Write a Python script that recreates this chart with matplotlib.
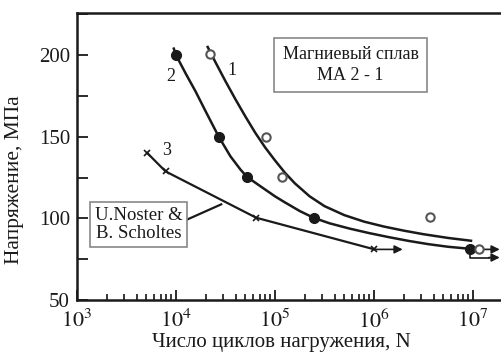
"""
S-N curves, magnesium alloy MA2-1
"""
import numpy as np
import matplotlib
matplotlib.use('Agg')
import matplotlib.pyplot as plt
from matplotlib.ticker import LogLocator, MultipleLocator, FuncFormatter, NullFormatter

plt.rcParams['font.family'] = ['Liberation Serif', 'DejaVu Serif']
plt.rcParams['mathtext.fontset'] = 'stix'

################################################################################
#
# data: log10(N cycles) and stress, MPa
#
# series 1 - open circles and the drawn curve
lg1_pts = [4.345, 4.911, 5.073, 6.568, 7.060]
s1_pts = [200.4, 149.6, 125.5, 101.0, 81.0]
lg1_curve = [4.32, 4.40, 4.50, 4.60, 4.70, 4.80, 4.90, 5.00, 5.10, 5.20, 5.35,
             5.50, 5.70, 5.90, 6.10, 6.30, 6.50, 6.75, 6.98]
s1_curve = [205.0, 195.5, 184.0, 173.0, 162.5, 152.5, 143.5, 135.5, 128.0, 121.5, 113.5,
            107.5, 102.0, 98.0, 95.0, 92.5, 90.3, 88.0, 86.3]

# series 2 - filled circles, curve through the points
lg2_pts = [4.0, 4.432, 4.715, 5.389, 6.965]
s2_pts = [200.0, 150.0, 125.5, 100.4, 81.4]
lg2_curve = [3.978, 4.0, 4.1, 4.2, 4.3, 4.432, 4.55, 4.65, 4.715, 4.85, 5.0, 5.1,
             5.25, 5.389, 5.55, 5.75, 5.95, 6.15, 6.35, 6.55, 6.75, 6.965]
s2_curve = [204.0, 200.0, 188.5, 177.5, 165.5, 150.0, 138.0, 130.0, 125.5, 119.8, 113.5, 109.8,
            104.5, 100.4, 97.0, 93.8, 91.0, 88.5, 86.2, 84.2, 82.6, 81.4]

# series 3 - crosses (U.Noster & B. Scholtes)
lg3 = [3.709, 3.894, 4.810, 6.005]
s3 = [140.1, 128.8, 100.4, 81.0]

# run-out arrows: (start lgN, start S, end lgN, end S)
runouts = [
    (6.005, 81.0, 6.29, 81.0),
    (7.060, 81.0, 7.27, 81.0),
]
bent_lg = [6.965, 6.965, 7.16]
bent_s = [81.4, 76.0, 76.0]
bent_tip_lg = 7.27

# curve numbers
curve_ids = ['1', '2', '3']
id_lg = [4.568, 3.952, 3.901]
id_s = [190.3, 186.7, 141.8]

# leader line from the reference box to curve 3
leader_lg = [4.076, 4.457]
leader_s = [98.3, 108.6]

ink = '#1a1a1a'

################################################################################
#
# create plot
fig = plt.figure(figsize=(5.02, 3.52), dpi=100)
ax = fig.add_axes([77/502, 52/352, 425/502, 287.3/352])

ax.plot(np.power(10.0, lg1_curve), s1_curve, color=ink, lw=1.8)
ax.plot(np.power(10.0, lg2_curve), s2_curve, color=ink, lw=1.8)
ax.plot(np.power(10.0, lg3), s3, color=ink, lw=1.6, marker='x', ms=5, mew=1.2)

ax.plot(np.power(10.0, lg2_pts), s2_pts, 'o', color=ink, ms=7, zorder=4)
ax.plot(np.power(10.0, lg1_pts), s1_pts, 'o', mfc='white', mec='#555555',
        mew=1.5, ms=6, zorder=5)

arrow_kw = dict(arrowstyle='-|>', color=ink, lw=1.2, mutation_scale=12,
                shrinkA=0, shrinkB=0)
for x0, y0, x1, y1 in runouts:
    ax.annotate('', xy=(10**x1, y1), xytext=(10**x0, y0), arrowprops=arrow_kw)
ax.plot(np.power(10.0, bent_lg), bent_s, color=ink, lw=1.2)
ax.annotate('', xy=(10**bent_tip_lg, bent_s[-1]), xytext=(10**bent_lg[-1], bent_s[-1]),
            arrowprops=arrow_kw)

for lab, x, y in zip(curve_ids, id_lg, id_s):
    ax.text(10**x, y, lab, fontsize=13, ha='center', va='center', color=ink)

ax.plot(np.power(10.0, leader_lg), leader_s, color=ink, lw=1.6)

ax.text(10**5.763, 193.8, 'Магниевый сплав\nМА 2 - 1', fontsize=13,
        ha='center', va='center', linespacing=1.3, color=ink,
        bbox=dict(boxstyle='square,pad=0.45', fc='white', ec='#888888', lw=1.2))
ax.text(10**3.623, 96.3, 'U.Noster &\nB. Scholtes', fontsize=13.5,
        ha='center', va='center', linespacing=1.1, color=ink,
        bbox=dict(boxstyle='square,pad=0.25', fc='white', ec='#888888', lw=1.2))

ax.set_xscale('log')
ax.set_xlim(1e3, 10**7.293)
ax.set_ylim(50, 226)

ax.xaxis.set_major_locator(LogLocator(base=10, numticks=10))
ax.xaxis.set_minor_locator(LogLocator(base=10, subs=np.arange(2, 10), numticks=20))
ax.xaxis.set_minor_formatter(NullFormatter())
ax.xaxis.set_major_formatter(FuncFormatter(lambda v, p: r'$10^{%d}$' % round(np.log10(v))))
ax.yaxis.set_major_locator(MultipleLocator(50))
ax.yaxis.set_minor_locator(MultipleLocator(25))

ax.tick_params(axis='x', which='major', direction='in', length=7, width=1.3,
               labelsize=16, pad=7, colors=ink)
ax.tick_params(axis='x', which='minor', direction='in', length=4, width=1.1)
ax.tick_params(axis='y', which='both', direction='in', length=8, width=1.3,
               labelsize=15, pad=5, colors=ink)

for side in ['left', 'bottom', 'top']:
    ax.spines[side].set_linewidth(1.8)
    ax.spines[side].set_color(ink)
ax.spines['right'].set_visible(False)

ax.set_xlabel('Число циклов нагружения, N', fontsize=15, color=ink)
ax.set_ylabel('Напряжение, МПа', fontsize=15.5, color=ink)
ax.xaxis.set_label_coords(0.482, -0.115)
ax.yaxis.set_label_coords(-0.125, 0.418)

fig.savefig('out.png', dpi=100)
